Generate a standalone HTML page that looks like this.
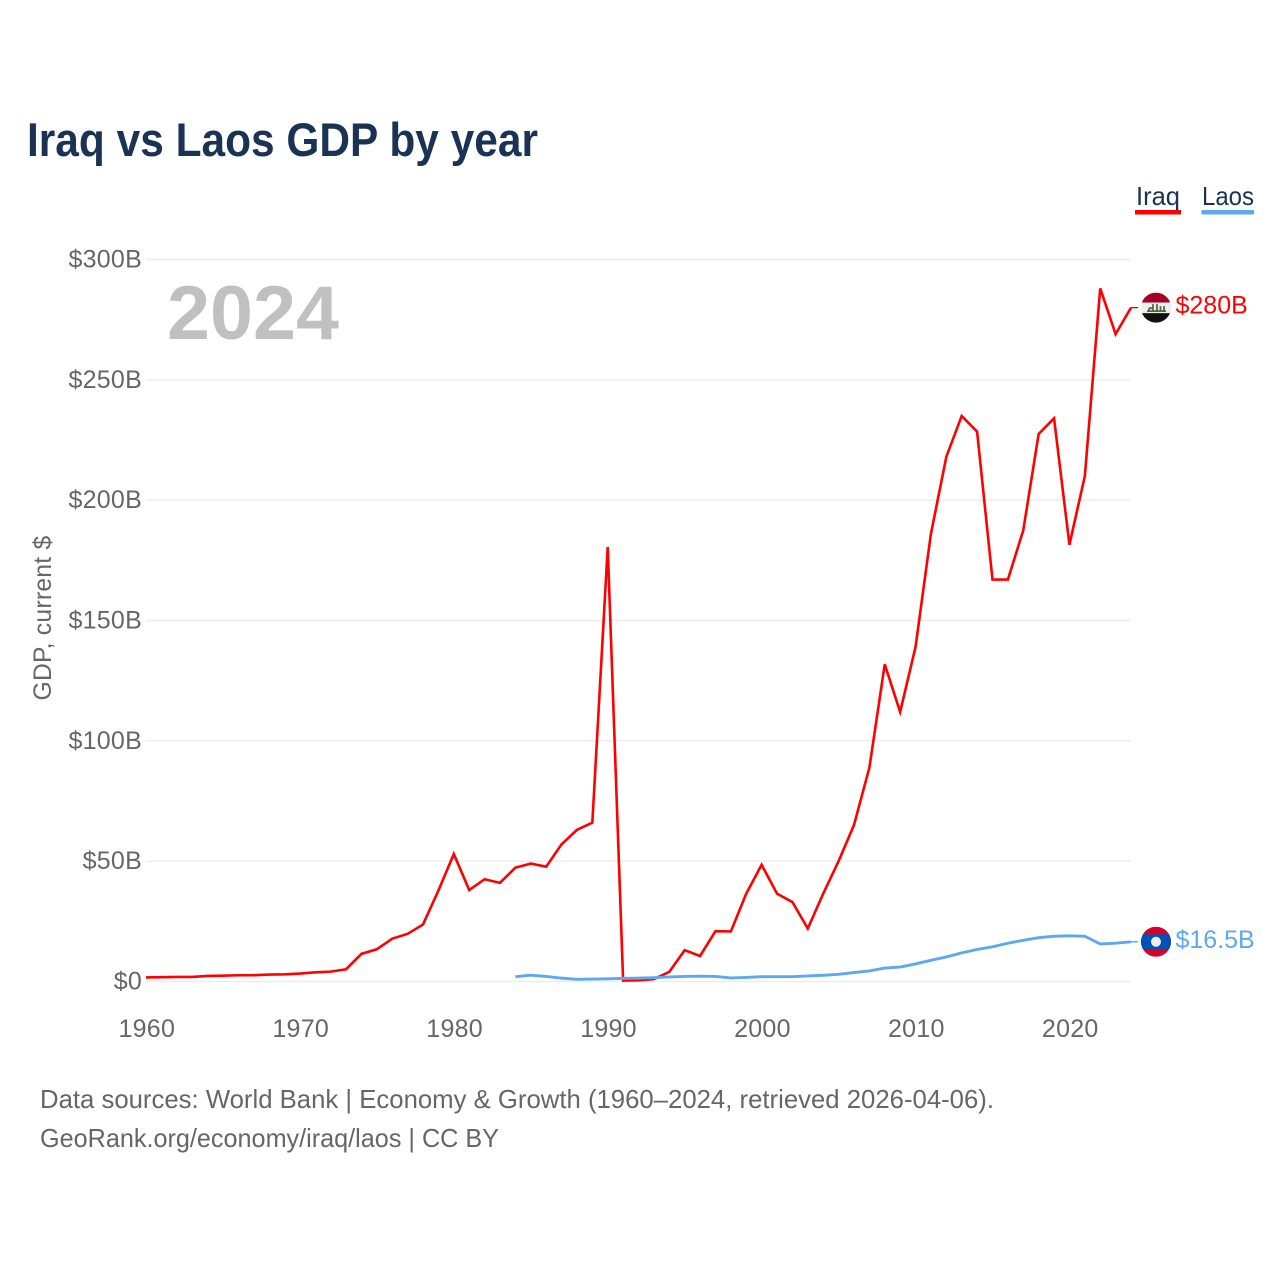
<!DOCTYPE html>
<html lang="en">
<head>
<meta charset="utf-8">
<title>Iraq vs Laos GDP by year</title>
<style>
html,body{margin:0;padding:0;background:#fff;}
svg{display:block;}
text{font-family:"Liberation Sans",sans-serif;}
.tick{font-size:25px;fill:#666;letter-spacing:.25px;}
.foot{font-size:26px;fill:#666;}
.leg{font-size:26px;fill:#1a3355;}
</style>
</head>
<body>
<svg id="chart" width="1280" height="1280" viewBox="0 0 1280 1280" xmlns="http://www.w3.org/2000/svg">
  <rect width="1280" height="1280" fill="#fff"/>
  <text x="27" y="156" font-size="47" font-weight="700" fill="#1a3355" textLength="511" lengthAdjust="spacingAndGlyphs">Iraq vs Laos GDP by year</text>
  <g id="grid"></g>
  <g id="ylabels"></g>
  <g id="xlabels"></g>
  <text class="tick" transform="translate(51,618) rotate(-90)" text-anchor="middle" textLength="165" lengthAdjust="spacingAndGlyphs">GDP, current $</text>
  <text x="167" y="339" font-size="76" font-weight="700" fill="#c0c0c0" textLength="172" lengthAdjust="spacingAndGlyphs">2024</text>
  <g id="series"></g>
  <g>
    <g>
      <text class="leg" x="1136" y="205" textLength="44" lengthAdjust="spacingAndGlyphs">Iraq</text>
      <rect x="1135" y="210" width="46" height="4.5" fill="#ff0000"/>
    </g>
    <g>
      <text class="leg" x="1202" y="205" textLength="52" lengthAdjust="spacingAndGlyphs">Laos</text>
      <rect x="1201.5" y="210" width="52.5" height="4.5" fill="#5fa8ee"/>
    </g>
  </g>
  <g id="end-iraq">
    <clipPath id="clip-iraq"><circle cx="0" cy="0" r="15"/></clipPath>
    <g clip-path="url(#clip-iraq)">
      <rect x="-15" y="-15" width="30" height="10" fill="#a50026"/>
      <rect x="-15" y="-5" width="30" height="10.5" fill="#eeeeee"/>
      <rect x="-15" y="5.5" width="30" height="10" fill="#111111"/>
      <path d="M-9 3.5h19M-7 3.5v-3M-7 .5h3M-3 3.5v-7M1 3.5v-7M4.5 3.5v-5M8 3.5v-5" stroke="#4d6a3a" stroke-width="1.8" fill="none"/>
    </g>
  </g>
  <g id="end-laos">
    <clipPath id="clip-laos"><circle cx="0" cy="0" r="15"/></clipPath>
    <g clip-path="url(#clip-laos)">
      <rect x="-15" y="-15" width="30" height="30" fill="#d80027"/>
      <rect x="-15" y="-7.5" width="30" height="15" fill="#0052b4"/>
      <circle cx="0" cy="0" r="5" fill="#eeeeee"/>
    </g>
  </g>
  <text class="foot" x="40" y="1108" textLength="954" lengthAdjust="spacingAndGlyphs">Data sources: World Bank | Economy &amp; Growth (1960–2024, retrieved 2026-04-06).</text>
  <text class="foot" x="40" y="1147" textLength="459" lengthAdjust="spacingAndGlyphs">GeoRank.org/economy/iraq/laos | CC BY</text>
</svg>
<script>
const iraqYears = [1960,1961,1962,1963,1964,1965,1966,1967,1968,1969,1970,1971,1972,1973,1974,1975,1976,1977,1978,1979,1980,1981,1982,1983,1984,1985,1986,1987,1988,1989,1990,1991,1992,1993,1994,1995,1996,1997,1998,1999,2000,2001,2002,2003,2004,2005,2006,2007,2008,2009,2010,2011,2012,2013,2014,2015,2016,2017,2018,2019,2020,2021,2022,2023,2024];
const iraqValues = [1.7,1.8,1.9,1.9,2.3,2.4,2.6,2.6,2.9,3.0,3.3,3.8,4.1,5.1,11.5,13.4,17.8,19.8,23.7,37.8,53,38,42.5,41,47.3,49,47.7,57,63,66,180.5,0.4,0.5,1.0,4,13,10.6,20.9,20.8,36.5,48.5,36.5,33,22,36.5,50,65,88.8,131.8,112,139,186,218,235,228.5,167,167,187.5,227.5,234,181.5,210,288,269,280];
const laosYears = [1984,1985,1986,1987,1988,1989,1990,1991,1992,1993,1994,1995,1996,1997,1998,1999,2000,2001,2002,2003,2004,2005,2006,2007,2008,2009,2010,2011,2012,2013,2014,2015,2016,2017,2018,2019,2020,2021,2022,2023,2024];
const laosValues = [2.0,2.6,2.1,1.4,0.9,1.0,1.1,1.3,1.4,1.6,1.9,2.1,2.2,2.1,1.5,1.7,2.0,2.0,2.0,2.3,2.6,3.0,3.7,4.4,5.6,6.0,7.3,8.8,10.2,11.9,13.3,14.4,15.9,17.1,18.2,18.8,19.0,18.8,15.6,15.9,16.5];
const yTicks = [0,50,100,150,200,250,300];
const yTickLabels = ['$0','$50B','$100B','$150B','$200B','$250B','$300B'];
const xTicks = [1960,1970,1980,1990,2000,2010,2020];
const iraqEndLabel = '$280B';
const laosEndLabel = '$16.5B';

const NS = 'http://www.w3.org/2000/svg';
function xScale(year){ return 146 + (year - 1960) * (1131 - 146) / 64; }
function yScale(v){ return 981.5 - v * (981.5 - 259.5) / 300; }
function mk(tag, attrs, parent){
  const el = document.createElementNS(NS, tag);
  for (const k in attrs) el.setAttribute(k, attrs[k]);
  parent.appendChild(el);
  return el;
}
const grid = document.getElementById('grid');
const ylabels = document.getElementById('ylabels');
const xlabels = document.getElementById('xlabels');
const seriesG = document.getElementById('series');

yTicks.forEach(function(t, i){
  const line = mk('line', {x1:146, x2:1131, y1:yScale(t), y2:yScale(t), stroke:'#ececec', 'stroke-width':1.4}, grid);
  
  
  const lab = mk('text', {x:142, y:yScale(t) + 8, 'text-anchor':'end', class:'tick'}, ylabels);
  
  
  lab.textContent = yTickLabels[i];
});
xTicks.forEach(function(t){
  const lab = mk('text', {x:xScale(t) + 0.8, y:1037, 'text-anchor':'middle', class:'tick', 'letter-spacing':'.6'}, xlabels);
  
  
  lab.textContent = t;
});
function linePath(years, values){
  return years.map(function(y, i){ return (i ? 'L' : 'M') + xScale(y).toFixed(2) + ' ' + yScale(values[i]).toFixed(2); }).join('');
}
const iraqLine = mk('path', {d:linePath(iraqYears, iraqValues), fill:'none', stroke:'#ff0000', 'stroke-width':2.6, 'stroke-linejoin':'miter'}, seriesG);


const laosLine = mk('path', {d:linePath(laosYears, laosValues), fill:'none', stroke:'#5fa8ee', 'stroke-width':2.9, 'stroke-linejoin':'round'}, seriesG);



function endMarker(id, years, values, color, text){
  const g = document.getElementById(id);
  const lastY = yScale(values[values.length - 1]);
  const lastX = xScale(years[years.length - 1]);
  g.setAttribute('transform', 'translate(' + (lastX + 25) + ',' + lastY + ')');
  const lead = mk('line', {x1:-25, x2:-18, y1:0, y2:0, stroke:color, 'stroke-width':1.4}, g);
  
  
  const lab = mk('text', {x:19.5, y:6, 'font-size':25, fill:color}, g);
  
  
  lab.textContent = text;
}
endMarker('end-iraq', iraqYears, iraqValues, '#ff0000', iraqEndLabel);
endMarker('end-laos', laosYears, laosValues, '#5fa8ee', laosEndLabel);
</script>
</body>
</html>
